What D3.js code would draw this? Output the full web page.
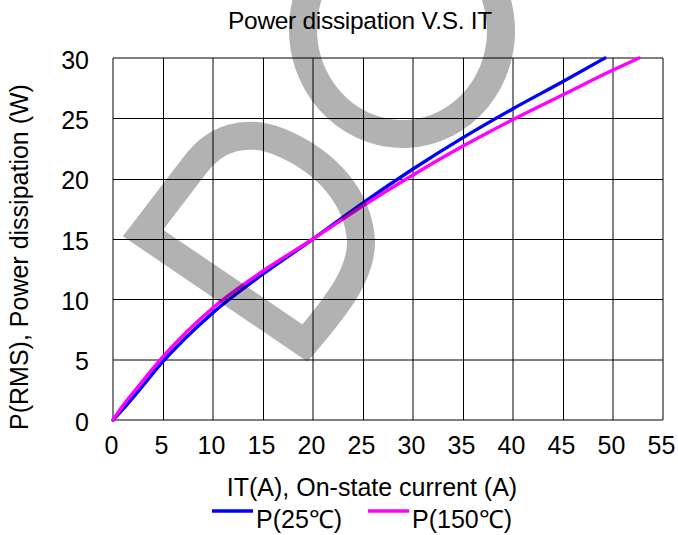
<!DOCTYPE html>
<html>
<head>
<meta charset="utf-8">
<script src="https://cdn.jsdelivr.net/npm/d3@7/dist/d3.min.js"></script>
<style>
  html, body { margin: 0; padding: 0; background: #fff; }
  svg { display: block; font-family: "Liberation Sans", Arial, sans-serif; }
</style>
</head>
<body>
<svg id="chart" width="678" height="535"></svg>
<script>
// ---- data ----
const xTicks = [0, 5, 10, 15, 20, 25, 30, 35, 40, 45, 50, 55];
const yTicks = [0, 5, 10, 15, 20, 25, 30];

const current25 = [0, 1, 2.5, 5, 10, 15, 20, 25, 30, 35, 40, 45, 49.2];
const power25   = [0, 0.9, 2.35, 4.85, 8.9, 12.1, 15.0, 18.0, 20.8, 23.4, 25.8, 28.05, 30];

const current150 = [0, 1, 2.5, 5, 10, 15, 20, 25, 30, 35, 40, 45, 50, 52.6];
const power150   = [0, 1.2, 2.75, 5.25, 9.3, 12.35, 15.0, 17.75, 20.3, 22.7, 24.9, 26.95, 29.0, 30];

const seriesNames = ["P(25℃)", "P(150℃)"];
const seriesColors = ["#0000ff", "#ff00ff"];

const titleText = "Power dissipation V.S. IT";
const xTitle = "IT(A), On-state current (A)";
const yTitle = "P(RMS),  Power dissipation (W)";

// ---- layout ----
const svg = d3.select("#chart");
const L = 113, R = 663, T = 58, B = 420;
const FS = 25;

const x = d3.scaleLinear().domain([0, 55]).range([L, R]);
const y = d3.scaleLinear().domain([0, 30]).range([B, T]);

// grid (soft lines fall on pixel boundaries, crisp ones on pixel centres)
const softX = d => d % 10 === 0 || d === 55;
const softY = d => d === 0 || d === 5 || d === 30;
const grid = svg.append("g").attr("stroke", "#000").attr("stroke-width", 1);
grid.selectAll("line.v").data(xTicks).join("line")
  .attr("x1", d => Math.round(x(d)) + (softX(d) ? 0 : 0.5))
  .attr("x2", d => Math.round(x(d)) + (softX(d) ? 0 : 0.5))
  .attr("y1", T).attr("y2", B);
grid.selectAll("line.h").data(yTicks).join("line")
  .attr("y1", d => Math.round(y(d)) + (softY(d) ? 0 : 0.5))
  .attr("y2", d => Math.round(y(d)) + (softY(d) ? 0 : 0.5))
  .attr("x1", L).attr("x2", R);

// axes (labels only)
const xAxis = d3.axisBottom(x).tickValues(xTicks).tickSize(0).tickPadding(0);
const gx = svg.append("g").attr("transform", `translate(-2,${B + 16})`).call(xAxis);
gx.select(".domain").remove();
gx.selectAll("text").attr("font-size", FS).attr("fill", "#000")
  .attr("font-family", "Liberation Sans, Arial, sans-serif").attr("dy", "0.72em");

const yAxis = d3.axisLeft(y).tickValues(yTicks).tickSize(0).tickPadding(0);
const gy = svg.append("g").attr("transform", `translate(89,1)`).call(yAxis);
gy.select(".domain").remove();
gy.selectAll("text").attr("font-size", FS).attr("fill", "#000")
  .attr("font-family", "Liberation Sans, Arial, sans-serif").attr("dy", "0.36em");

// lines
const line = d3.line().x(d => x(d[0])).y(d => y(d[1])).curve(d3.curveMonotoneX);
const data = [
  d3.zip(current25, power25),
  d3.zip(current150, power150)
];
svg.append("g").selectAll("path").data(data).join("path")
  .attr("d", line)
  .attr("fill", "none")
  .attr("stroke", (d, i) => seriesColors[i])
  .attr("stroke-width", 3.4)
  .attr("stroke-linecap", "round");

// titles
svg.append("text").attr("x", 360).attr("y", 29).attr("text-anchor", "middle")
  .attr("font-size", FS - 0.5).attr("letter-spacing", -0.3).text(titleText);
svg.append("text").attr("x", 372).attr("y", 496).attr("text-anchor", "middle")
  .attr("font-size", FS).text(xTitle);
svg.append("text").attr("transform", "translate(28,257) rotate(-90)")
  .attr("text-anchor", "middle").attr("font-size", FS).text(yTitle);

// legend
const legendX = [212, 368];
const lg = svg.append("g");
seriesNames.forEach((name, i) => {
  lg.append("line").attr("x1", legendX[i]).attr("x2", legendX[i] + 41)
    .attr("y1", 511).attr("y2", 511)
    .attr("stroke", seriesColors[i]).attr("stroke-width", 3.5);
  lg.append("text").attr("x", legendX[i] + 44).attr("y", 528)
    .attr("font-size", FS).text(name);
});

// watermark (decorative)
const wm = svg.append("g").attr("fill", "none").attr("stroke", "#000")
  .attr("stroke-opacity", 0.3).attr("stroke-width", 28);
wm.append("ellipse").attr("cx", 402).attr("cy", 30).attr("rx", 99).attr("ry", 104)
  .attr("transform", "rotate(-4,402,30)");
wm.append("path")
  .attr("stroke-linejoin", "miter").attr("stroke-miterlimit", 10)
  .attr("d", "M143,233 L195,165 C215,138 245,128 280,142 C330,163 358,200 361,240 C362,272 340,302 305,343 Z");
</script>
</body>
</html>
